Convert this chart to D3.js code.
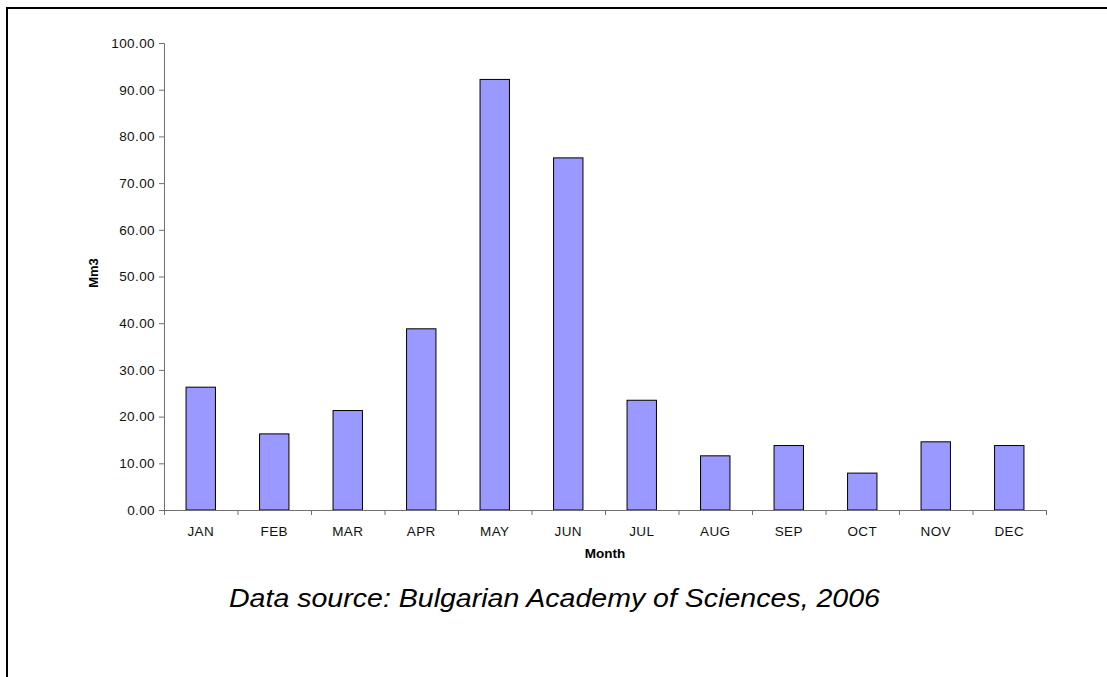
<!DOCTYPE html>
<html><head><meta charset="utf-8">
<script src="https://cdn.jsdelivr.net/npm/d3@7"></script>
<style>html,body{margin:0;padding:0;background:#fff;}svg{display:block;}</style>
</head><body>
<svg id="c" width="1107" height="677"></svg>
<script>
const months = ["JAN","FEB","MAR","APR","MAY","JUN","JUL","AUG","SEP","OCT","NOV","DEC"];
const values = [26.3, 16.3, 21.3, 38.8, 92.2, 75.4, 23.5, 11.6, 13.8, 7.9, 14.6, 13.8];
const yTicks = [0,10,20,30,40,50,60,70,80,90,100];
const yTitle = "Mm3";
const xTitle = "Month";
const caption = "Data source: Bulgarian Academy of Sciences, 2006";

(function(){
const svg = d3.select("#c");
const font = "'Liberation Sans', Arial, sans-serif";
// outer frame
svg.append("rect").attr("x",7).attr("y",8).attr("width",1130).attr("height",700)
  .attr("fill","none").attr("stroke","#000").attr("stroke-width",2);

const pL=164, pR=1046, pT=43, pB=510;
const x = d3.scaleBand().domain(months).range([pL,pR]).padding(0);
const y = d3.scaleLinear().domain([0,100]).range([pB,pT]);

// bars
const bw = x.bandwidth()*0.4;
svg.append("g").selectAll("rect").data(months).join("rect")
  .attr("x", d => x(d) + (x.bandwidth()-bw)/2)
  .attr("y", (d,i) => y(values[i]))
  .attr("width", bw)
  .attr("height", (d,i) => y(0)-y(values[i]))
  .attr("fill","#9999FF").attr("stroke","#000").attr("stroke-width",1);

// y axis
const ya = svg.append("g").attr("transform",`translate(${pL},0)`)
  .call(d3.axisLeft(y).tickValues(yTicks).tickFormat(d3.format(".2f")).tickSize(5).tickPadding(4));
ya.select(".domain").attr("stroke","#707070");
ya.selectAll(".tick line").attr("stroke","#707070");
ya.selectAll("text").attr("font-family",font).attr("font-size",13.5).attr("letter-spacing",0.4).attr("fill","#111");

// x axis
const xa = svg.append("g").attr("transform",`translate(0,${pB})`)
  .call(d3.axisBottom(x).tickSize(0).tickPadding(16));
xa.select(".domain").attr("stroke","#707070");
xa.selectAll("text").attr("font-family",font).attr("font-size",13.5).attr("letter-spacing",0.4).attr("fill","#111");
// boundary ticks
const bounds = months.map(m => x(m)).concat([pR]);
svg.append("g").selectAll("line").data(bounds).join("line")
  .attr("x1", d=>d+0.5).attr("x2", d=>d+0.5).attr("y1", pB).attr("y2", pB+5)
  .attr("stroke","#707070");

// titles
svg.append("text").attr("x",(pL+pR)/2).attr("y",558).attr("text-anchor","middle")
  .attr("font-family",font).attr("font-weight","bold").attr("font-size",13.5).text(xTitle);
svg.append("text").attr("transform",`translate(98,273) rotate(-90)`).attr("text-anchor","middle")
  .attr("font-family",font).attr("font-weight","bold").attr("font-size",13).text(yTitle);
svg.append("text").attr("x",229).attr("y",607).attr("text-anchor","start")
  .attr("textLength",651).attr("lengthAdjust","spacingAndGlyphs")
  .attr("font-family",font).attr("font-style","italic").attr("font-size",25).text(caption);
})();
</script>
</body></html>
